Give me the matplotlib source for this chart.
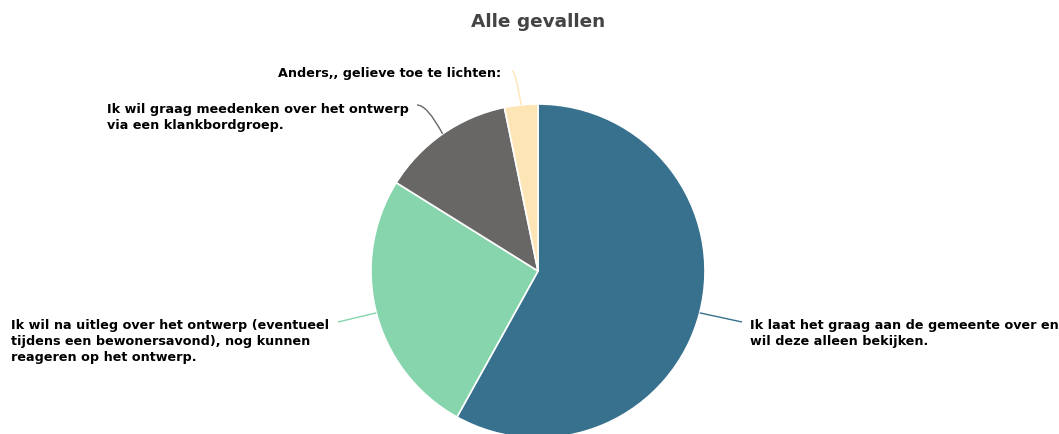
import numpy as np
import matplotlib
matplotlib.use("Agg")
import matplotlib.pyplot as plt
from matplotlib.path import Path
from matplotlib.patches import PathPatch

title = "Alle gevallen"
categories = [
    "Ik laat het graag aan de gemeente over en\nwil deze alleen bekijken.",
    "Ik wil na uitleg over het ontwerp (eventueel\ntijdens een bewonersavond), nog kunnen\nreageren op het ontwerp.",
    "Ik wil graag meedenken over het ontwerp\nvia een klankbordgroep.",
    "Anders,, gelieve toe te lichten:",
]
values = [18, 8, 4, 1]
colors = ["#37718e", "#86d5ac", "#686766", "#fde5b5"]

W, H = 1059, 434
fig = plt.figure(figsize=(W / 100, H / 100), dpi=100)
ax = fig.add_axes([0, 0, 1, 1])

cx, cy, R = 538, H - 271, 167
wedges, _ = ax.pie(values, colors=colors, startangle=90, counterclock=False,
                   center=(cx, cy), radius=R, frame=True,
                   wedgeprops=dict(edgecolor="white", linewidth=1.2))
ax.set_xlim(0, W)
ax.set_ylim(0, H)
ax.set_aspect("equal")
ax.axis("off")

# label anchors (image pixel coords): (text x, text y center, ha, connector end x, end y)
label_layout = [
    (750, 333, "left", 742, 322),
    (11, 341, "left", 338, 322),
    (107, 117, "left", 417, 105),
    (501, 73, "right", 512, 71),
]

for w, lab, col, (tx, ty, ha, ex, ey) in zip(wedges, categories, colors, label_layout):
    mid = np.deg2rad((w.theta1 + w.theta2) / 2)
    sx, sy = cx + R * np.cos(mid), cy + R * np.sin(mid)
    ex_, ey_ = ex, H - ey
    if abs(ey_ - sy) > 20:
        ctrl = (ex_ + (sx - ex_) * 0.4, ey_)
    else:
        ctrl = ((sx + ex_) / 2, (sy + ey_) / 2)
    path = Path([(sx, sy), ctrl, (ex_, ey_)], [Path.MOVETO, Path.CURVE3, Path.CURVE3])
    ax.add_patch(PathPatch(path, facecolor="none", edgecolor=col, lw=1.0))
    ax.text(tx, H - ty, lab, ha=ha, va="center", fontsize=9.2, fontweight="bold",
            color="black", linespacing=1.3, family="DejaVu Sans", clip_on=False)

ax.text(538, H - 22, title, ha="center", va="center", fontsize=13.3,
        fontweight="bold", color="#444444", family="DejaVu Sans")

fig.savefig("out.png", dpi=100, facecolor="white")
